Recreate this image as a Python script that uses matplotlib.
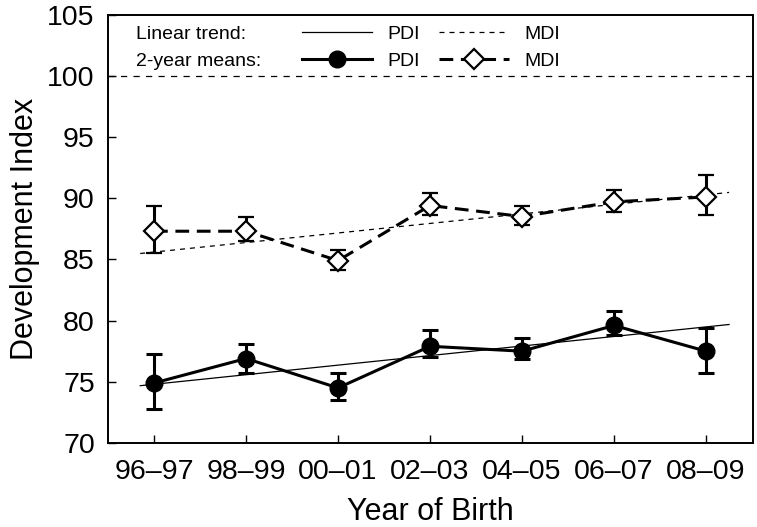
import matplotlib.pyplot as plt
import numpy as np
from matplotlib.lines import Line2D

plt.rcParams['font.family'] = ['Liberation Sans', 'DejaVu Sans']

# Data
years = ["96–97", "98–99", "00–01", "02–03", "04–05", "06–07", "08–09"]
pdi_mean = [74.9, 76.9, 74.5, 77.9, 77.5, 79.6, 77.5]
pdi_upper = [77.3, 78.1, 75.7, 79.2, 78.6, 80.8, 79.4]
pdi_lower = [72.8, 75.7, 73.5, 77.0, 76.9, 78.8, 75.7]
mdi_mean = [87.3, 87.3, 84.9, 89.4, 88.5, 89.7, 90.1]
mdi_upper = [89.4, 88.5, 85.8, 90.4, 89.4, 90.7, 91.9]
mdi_lower = [85.5, 86.5, 84.1, 88.6, 87.8, 88.9, 88.6]

# Linear trend end points (x in category units)
trend_x = [-0.15, 6.25]
pdi_trend = [74.68, 79.68]
mdi_trend = [85.48, 90.47]
reference = 100

x = np.arange(len(years))
pdi_err = [np.array(pdi_mean) - np.array(pdi_lower), np.array(pdi_upper) - np.array(pdi_mean)]
mdi_err = [np.array(mdi_mean) - np.array(mdi_lower), np.array(mdi_upper) - np.array(mdi_mean)]

fig = plt.figure(figsize=(7.57, 5.27), dpi=100)
ax = fig.add_axes([0.1427, 0.1594, 0.852, 0.813])

ax.axhline(reference, color="black", lw=0.9, ls=(0, (5, 5)))
ax.plot(trend_x, pdi_trend, color="black", lw=0.9)
ax.plot(trend_x, mdi_trend, color="black", lw=0.9, ls=(0, (4, 4)))

ax.errorbar(x, pdi_mean, yerr=pdi_err, color="black", lw=2.2, marker="o", ms=12,
            mfc="black", mec="black", capsize=6, capthick=2.2, elinewidth=2.2, zorder=3)
ax.errorbar(x, mdi_mean, yerr=mdi_err, color="black", lw=2.2, ls=(0, (4.5, 2.5)),
            marker="D", ms=10.5, mfc="white", mec="black", mew=1.6,
            capsize=6, capthick=2.2, elinewidth=2.2, zorder=3)

ax.set_xlim(-0.5, 6.51)
ax.set_ylim(70, 105)
ax.set_xticks(x)
ax.set_xticklabels(years)
ax.set_yticks(np.arange(70, 106, 5))
ax.tick_params(direction="in", length=6, width=1, labelsize=20.5, top=False, right=False)
ax.tick_params(axis="x", pad=11.5)
ax.tick_params(axis="y", pad=9.5)
for s in ax.spines.values():
    s.set_linewidth(1.4)

ax.set_xlabel("Year of Birth", fontsize=22, labelpad=9)
ax.set_ylabel("Development Index", fontsize=22, labelpad=5)

# Legend
ax.text(0.043, 0.953, "Linear trend:", transform=ax.transAxes, fontsize=14, va="center")
ax.text(0.043, 0.891, "2-year means:", transform=ax.transAxes, fontsize=14, va="center")
handles = [
    Line2D([], [], color="black", lw=0.9),
    Line2D([], [], color="black", lw=2.2, marker="o", ms=12),
    Line2D([], [], color="black", lw=0.9, ls=(0, (4, 4))),
    Line2D([], [], color="black", lw=2.2, ls=(0, (4.5, 2.5)), marker="D", ms=10.5,
           mfc="white", mec="black", mew=1.6),
]
labels = ["PDI", "PDI", "MDI", "MDI"]
ax.legend(handles, labels, ncol=2, loc="upper left", bbox_to_anchor=(0.301, 0.974),
          frameon=False, fontsize=14, handlelength=3.6, handletextpad=0.77,
          columnspacing=1.0, labelspacing=0.45, borderpad=0, borderaxespad=0)

fig.savefig("out.png", dpi=100)
